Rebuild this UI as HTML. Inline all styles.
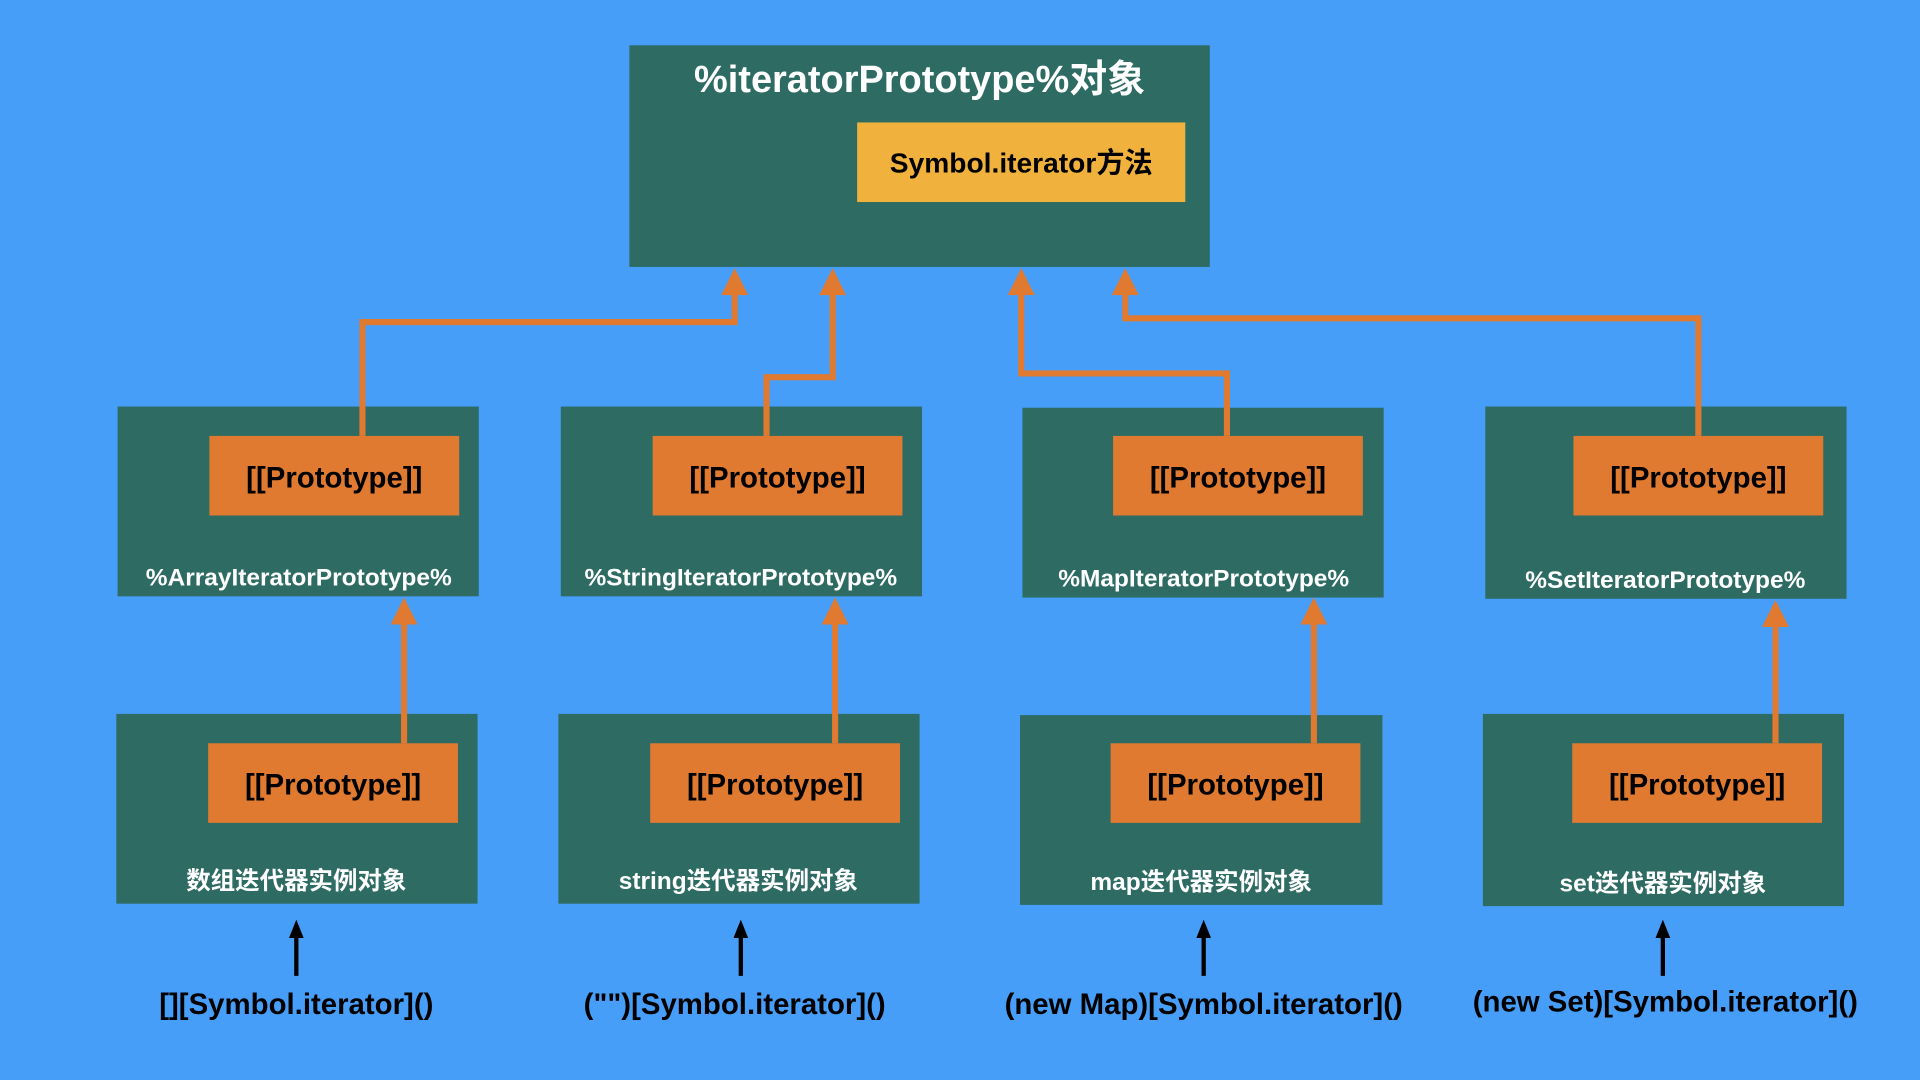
<!DOCTYPE html>
<html><head><meta charset="utf-8"><style>
html,body{margin:0;padding:0;background:#479ef8;}
svg{display:block;}
text{font-family:"Liberation Sans","Noto Sans CJK SC",sans-serif;font-weight:bold;}
</style></head><body>
<svg width="1920" height="1080" viewBox="0 0 1568 882" preserveAspectRatio="none" xmlns="http://www.w3.org/2000/svg">
<rect width="1568" height="882" fill="#479ef8"/>
<defs>
<marker id="oa" markerWidth="5" markerHeight="5" refX="2.5" refY="0" orient="auto" markerUnits="userSpaceOnUse" viewBox="0 0 5 5"></marker>
</defs>
<!-- top -->
<rect x="514" y="37" width="474" height="181" fill="#2d6b63"/>
<text x="751" y="75" font-size="31" fill="#fff" text-anchor="middle">%iteratorPrototype%对象</text>
<rect x="700" y="100" width="268" height="65" fill="#f0b23c"/>
<text x="834" y="141" font-size="23" fill="#000" text-anchor="middle">Symbol.iterator方法</text>

<!-- middle boxes -->
<g fill="#2d6b63">
<rect x="96" y="332" width="295" height="155"/>
<rect x="458" y="332" width="295" height="155"/>
<rect x="835" y="333" width="295" height="155"/>
<rect x="1213" y="332" width="295" height="157"/>
<rect x="95" y="583" width="295" height="155"/>
<rect x="456" y="583" width="295" height="155"/>
<rect x="833" y="584" width="296" height="155"/>
<rect x="1211" y="583" width="295" height="157"/>
</g>
<g fill="#e07a30">
<rect x="171" y="356" width="204" height="65"/>
<rect x="533" y="356" width="204" height="65"/>
<rect x="909" y="356" width="204" height="65"/>
<rect x="1285" y="356" width="204" height="65"/>
<rect x="170" y="607" width="204" height="65"/>
<rect x="531" y="607" width="204" height="65"/>
<rect x="907" y="607" width="204" height="65"/>
<rect x="1284" y="607" width="204" height="65"/>
</g>
<g font-size="24" fill="#000" text-anchor="middle">
<text x="273" y="398">[[Prototype]]</text>
<text x="635" y="398">[[Prototype]]</text>
<text x="1011" y="398">[[Prototype]]</text>
<text x="1387" y="398">[[Prototype]]</text>
<text x="272" y="649">[[Prototype]]</text>
<text x="633" y="649">[[Prototype]]</text>
<text x="1009" y="649">[[Prototype]]</text>
<text x="1386" y="649">[[Prototype]]</text>
</g>
<g font-size="20" fill="#fff" text-anchor="middle">
<text x="244" y="478">%ArrayIteratorPrototype%</text>
<text x="605" y="478">%StringIteratorPrototype%</text>
<text x="983" y="479">%MapIteratorPrototype%</text>
<text x="1360" y="480">%SetIteratorPrototype%</text>
<text x="242" y="726">数组迭代器实例对象</text>
<text x="603" y="726">string迭代器实例对象</text>
<text x="981" y="727">map迭代器实例对象</text>
<text x="1358" y="728">set迭代器实例对象</text>
</g>
<!-- orange connectors -->
<g fill="none" stroke="#e07a30" stroke-width="5">
<polyline points="296,356 296,263 600,263 600,236"/>
<polyline points="626,356 626,308 680,308 680,236"/>
<polyline points="1002,356 1002,305 834,305 834,236"/>
<polyline points="1387,356 1387,260 919,260 919,236"/>
<line x1="330" y1="607" x2="330" y2="505"/>
<line x1="682" y1="607" x2="682" y2="505"/>
<line x1="1073" y1="607" x2="1073" y2="505"/>
<line x1="1450" y1="607" x2="1450" y2="507"/>
</g>
<g fill="#e07a30">
<polygon points="600,219 589,241 611,241"/>
<polygon points="680,219 669,241 691,241"/>
<polygon points="834,219 823,241 845,241"/>
<polygon points="919,219 908,241 930,241"/>
<polygon points="330,488 319,510 341,510"/>
<polygon points="682,488 671,510 693,510"/>
<polygon points="1073,488 1062,510 1084,510"/>
<polygon points="1450,490 1439,512 1461,512"/>
</g>
<!-- black arrows -->
<g stroke="#000" stroke-width="3.5">
<line x1="242" y1="797" x2="242" y2="762"/>
<line x1="605" y1="797" x2="605" y2="762"/>
<line x1="983" y1="797" x2="983" y2="762"/>
<line x1="1358" y1="797" x2="1358" y2="762"/>
</g>
<g fill="#000">
<polygon points="242,751 236,766 248,766"/>
<polygon points="605,751 599,766 611,766"/>
<polygon points="983,751 977,766 989,766"/>
<polygon points="1358,751 1352,766 1364,766"/>
</g>
<g font-size="24" fill="#000" text-anchor="middle" font-weight="normal">
<text x="242" y="828">[][Symbol.iterator]()</text>
<text x="600" y="828">("")[Symbol.iterator]()</text>
<text x="983" y="828">(new Map)[Symbol.iterator]()</text>
<text x="1360" y="826">(new Set)[Symbol.iterator]()</text>
</g>
</svg>
</body></html>
